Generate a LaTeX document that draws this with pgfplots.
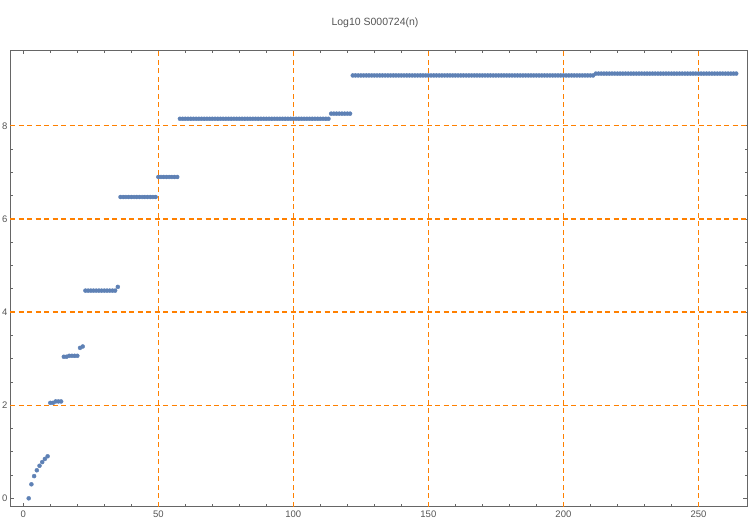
\documentclass[border=0pt]{standalone}
\usepackage{pgfplots}
\pgfplotsset{compat=1.18}
\usepackage{fontspec}
\setmainfont{Liberation Sans}
\definecolor{ptblue}{RGB}{94,129,181}
\definecolor{gridorange}{RGB}{255,128,0}
\definecolor{framegray}{RGB}{102,102,102}
\definecolor{labelgray}{RGB}{85,85,85}
\begin{document}
\begin{tikzpicture}
\path[use as bounding box] (0,0) rectangle (750bp,525bp);
\begin{axis}[
  at={(10bp,18.3bp)}, anchor=south west,
  scale only axis, width=737.3bp, height=456.4bp,
  xmin=-4.93, xmax=268.1, ymin=-0.18, ymax=9.62,
  xtick={0,50,100,150,200,250},
  ytick={0,2,4,6,8},
  minor x tick num=4, minor y tick num=3,
  tick align=inside, tick pos=both,
  major tick length=4bp, minor tick length=2.5bp,
  axis line style={draw=framegray, line width=0.8bp},
  tick style={draw=framegray, line width=0.6bp},
  tick label style={font=\fontsize{9.5bp}{11bp}\selectfont, text=labelgray},
  /pgf/number format/assume math mode=true,
  xticklabel style={yshift=-1bp},
  yticklabel style={xshift=1bp},
  clip=false,
]
\foreach \gx in {50,100,150,200,250} {
  \edef\tmp{\noexpand\draw[gridorange, line width=1.3bp, dash pattern=on 5bp off 3.5bp] (axis cs:\gx,-0.18) -- (axis cs:\gx,9.62);}
  \tmp
}
\foreach \gy in {2,4,6,8} {
  \edef\tmp{\noexpand\draw[gridorange, line width=1.3bp, dash pattern=on 5bp off 3.5bp] (axis cs:-4.93,\gy) -- (axis cs:268.1,\gy);}
  \tmp
}
\addplot[color=ptblue, only marks, mark=*, mark size=2bp, mark options={solid, draw=none, fill=ptblue}] coordinates {
(2,0)(3,0.301)(4,0.477)(5,0.602)(6,0.699)(7,0.778)(8,0.845)(9,0.903)
(10,2.05)(11,2.05)(12,2.08)(13,2.08)(14,2.08)
(15,3.04)(16,3.04)(17,3.06)(18,3.06)(19,3.06)(20,3.06)(21,3.23)(22,3.26)
(23,4.46)(24,4.46)(25,4.46)(26,4.46)(27,4.46)(28,4.46)(29,4.46)(30,4.46)(31,4.46)(32,4.46)(33,4.46)(34,4.46)(35,4.54)
(36,6.47)(37,6.47)(38,6.47)(39,6.47)(40,6.47)(41,6.47)(42,6.47)(43,6.47)(44,6.47)(45,6.47)(46,6.47)(47,6.47)(48,6.47)(49,6.47)
(50,6.90)(51,6.90)(52,6.90)(53,6.90)(54,6.90)(55,6.90)(56,6.90)(57,6.90)
(58,8.15)(59,8.15)(60,8.15)(61,8.15)(62,8.15)(63,8.15)(64,8.15)(65,8.15)(66,8.15)(67,8.15)
(68,8.15)(69,8.15)(70,8.15)(71,8.15)(72,8.15)(73,8.15)(74,8.15)(75,8.15)(76,8.15)(77,8.15)
(78,8.15)(79,8.15)(80,8.15)(81,8.15)(82,8.15)(83,8.15)(84,8.15)(85,8.15)(86,8.15)(87,8.15)
(88,8.15)(89,8.15)(90,8.15)(91,8.15)(92,8.15)(93,8.15)(94,8.15)(95,8.15)(96,8.15)(97,8.15)
(98,8.15)(99,8.15)(100,8.15)(101,8.15)(102,8.15)(103,8.15)(104,8.15)(105,8.15)(106,8.15)(107,8.15)
(108,8.15)(109,8.15)(110,8.15)(111,8.15)(112,8.15)(113,8.15)
(114,8.26)(115,8.26)(116,8.26)(117,8.26)(118,8.26)(119,8.26)(120,8.26)(121,8.26)
(122,9.08)(123,9.08)(124,9.08)(125,9.08)(126,9.08)(127,9.08)(128,9.08)(129,9.08)(130,9.08)(131,9.08)
(132,9.08)(133,9.08)(134,9.08)(135,9.08)(136,9.08)(137,9.08)(138,9.08)(139,9.08)(140,9.08)(141,9.08)
(142,9.08)(143,9.08)(144,9.08)(145,9.08)(146,9.08)(147,9.08)(148,9.08)(149,9.08)(150,9.08)(151,9.08)
(152,9.08)(153,9.08)(154,9.08)(155,9.08)(156,9.08)(157,9.08)(158,9.08)(159,9.08)(160,9.08)(161,9.08)
(162,9.08)(163,9.08)(164,9.08)(165,9.08)(166,9.08)(167,9.08)(168,9.08)(169,9.08)(170,9.08)(171,9.08)
(172,9.08)(173,9.08)(174,9.08)(175,9.08)(176,9.08)(177,9.08)(178,9.08)(179,9.08)(180,9.08)(181,9.08)
(182,9.08)(183,9.08)(184,9.08)(185,9.08)(186,9.08)(187,9.08)(188,9.08)(189,9.08)(190,9.08)(191,9.08)
(192,9.08)(193,9.08)(194,9.08)(195,9.08)(196,9.08)(197,9.08)(198,9.08)(199,9.08)(200,9.08)(201,9.08)
(202,9.08)(203,9.08)(204,9.08)(205,9.08)(206,9.08)(207,9.08)(208,9.08)(209,9.08)(210,9.08)(211,9.08)
(212,9.12)(213,9.12)(214,9.12)(215,9.12)(216,9.12)(217,9.12)(218,9.12)(219,9.12)(220,9.12)(221,9.12)
(222,9.12)(223,9.12)(224,9.12)(225,9.12)(226,9.12)(227,9.12)(228,9.12)(229,9.12)(230,9.12)(231,9.12)
(232,9.12)(233,9.12)(234,9.12)(235,9.12)(236,9.12)(237,9.12)(238,9.12)(239,9.12)(240,9.12)(241,9.12)
(242,9.12)(243,9.12)(244,9.12)(245,9.12)(246,9.12)(247,9.12)(248,9.12)(249,9.12)(250,9.12)(251,9.12)
(252,9.12)(253,9.12)(254,9.12)(255,9.12)(256,9.12)(257,9.12)(258,9.12)(259,9.12)(260,9.12)(261,9.12)
(262,9.12)(263,9.12)(264,9.12)
};
\end{axis}
\node[text=labelgray, font=\fontsize{10.5bp}{12bp}\selectfont] at (375bp,502bp) {Log10 S000724(n)};
\end{tikzpicture}
\end{document}
